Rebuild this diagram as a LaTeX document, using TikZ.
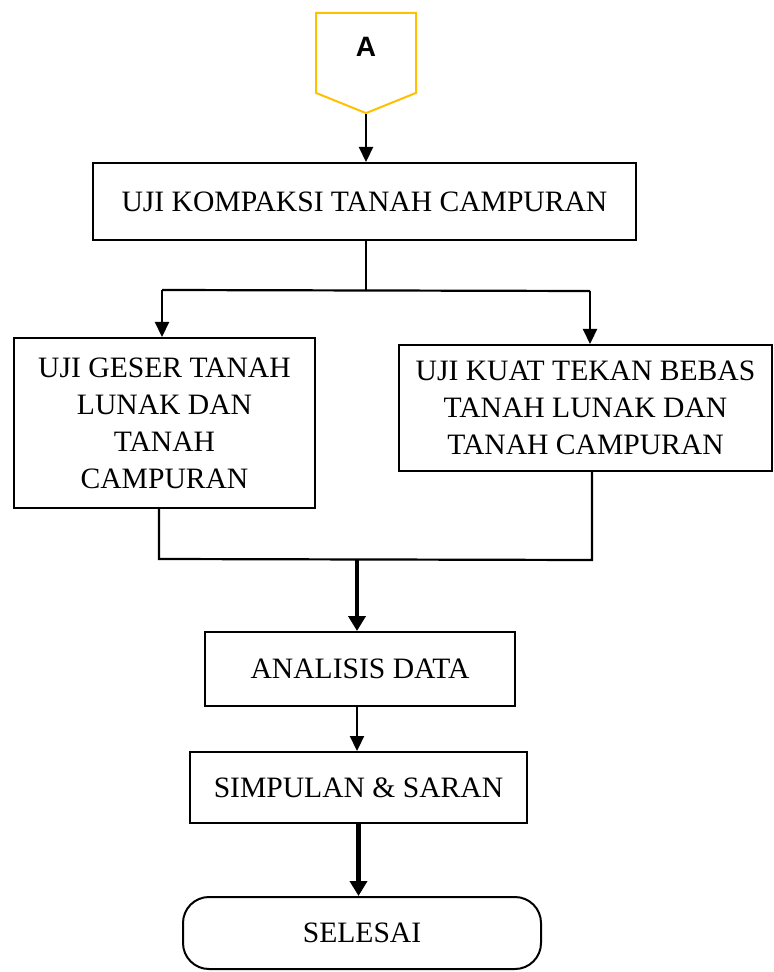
\documentclass[tikz,border=0pt]{standalone}
\usepackage{fontspec}
\setmainfont{Liberation Serif}
\setsansfont{Liberation Sans}
\usepackage{xcolor}
\usetikzlibrary{arrows.meta,shapes.symbols}
\definecolor{tagyellow}{HTML}{FFC000}

\begin{document}
\begin{tikzpicture}[
    x=0.5pt, y=-0.5pt, font=\fontsize{14.8}{18.5}\selectfont,
    box/.style={draw, line width=1pt, align=center, inner sep=0pt},
    endbox/.style={box, rounded corners=13pt},
    tag/.style={draw=tagyellow, line width=1pt, signal, signal to=south, signal pointer angle=136,
      minimum width=50pt, minimum height=42pt, inner sep=0pt, text depth=6pt, font=\sffamily\bfseries\fontsize{14}{16}\selectfont},
    wire/.style={draw, line width=1.1pt},
    link/.style={wire, -{Triangle[length=7.5pt, width=7pt]}},
    heavy/.style={draw, line width=2.4pt, -{Triangle[length=7.5pt, width=8.5pt]}},
  ]
  \useasboundingbox (0,0) rectangle (773,972);

  \node[tag, anchor=north] (tagA) at (366,12) {A};
  \node[box, minimum width=271.5pt, minimum height=38.5pt] (kompaksi) at (364.5,201.5) {UJI KOMPAKSI TANAH CAMPURAN};
  \node[box, minimum width=150.5pt, minimum height=85pt] (geser) at (164.5,423) {UJI GESER TANAH\\LUNAK DAN\\TANAH\\CAMPURAN};
  \node[box, minimum width=186.5pt, minimum height=63pt] (tekan) at (585.5,408) {UJI KUAT TEKAN BEBAS\\TANAH LUNAK DAN\\TANAH CAMPURAN};
  \node[box, minimum width=155pt, minimum height=37pt] (analisis) at (360,669) {ANALISIS DATA};
  \node[box, minimum width=168.5pt, minimum height=35.5pt] (simpulan) at (358.5,787.5) {SIMPULAN \& SARAN};
  \node[endbox, minimum width=179pt, minimum height=36pt] (selesai) at (362,933) {SELESAI};

  % branching after compaction
  \coordinate (split) at (366,290);
  \coordinate (splitL) at (162,290);
  \coordinate (splitR) at (590,291);
  % joining before analysis
  \coordinate (joinL) at (159,559);
  \coordinate (joinR) at (592,560);
  \coordinate (join) at (357,560);

  \draw[link] (tagA.south) -- (tagA.south |- kompaksi.north);
  \draw[wire] (kompaksi.south -| split) -- (split);
  \draw[wire] (splitL) -- (splitR);
  \draw[link] (splitL) -- (splitL |- geser.north);
  \draw[link] (splitR) -- (splitR |- tekan.north);
  \draw[wire] (geser.south -| joinL) -- (joinL) -- (joinR) -- (tekan.south -| joinR);
  \draw[heavy] (join) -- (join |- analisis.north);
  \draw[link] (analisis.south -| join) -- (join |- simpulan.north);
  \draw[heavy] (simpulan.south) -- (simpulan.south |- selesai.north);
\end{tikzpicture}
\end{document}
